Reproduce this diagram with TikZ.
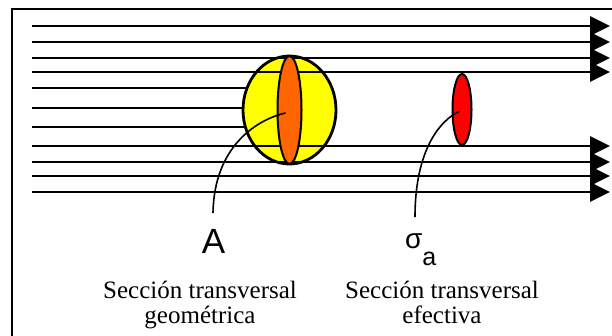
\documentclass[tikz,border=0pt]{standalone}
\usepackage{xcolor}
\usepackage{fontspec}
\setmainfont{Liberation Serif}
\newfontfamily\etiqfont{Liberation Sans}
\usepackage{tikz}
\usetikzlibrary{
  positioning,
  arrows.meta,
  shapes.geometric
}
\definecolor{amarillo}{RGB}{255,255,0}
\definecolor{naranja}{RGB}{255,102,0}
\definecolor{rojo}{RGB}{255,0,0}
\tikzset{
  marco/.style={line width=2pt},
  rayo/.style={line width=2.8pt},
  rayoflecha/.style={rayo,-{Triangle[length=20pt,width=19pt]}},
  esfera/.style={ellipse,draw,line width=2.8pt,fill=amarillo,inner sep=0pt,minimum width=93pt,minimum height=108pt},
  seccion/.style={ellipse,draw,line width=2pt,inner sep=0pt},
  guia/.style={line width=1.6pt},
  etiq/.style={inner sep=0pt,font=\etiqfont},
  texto/.style={align=center,inner sep=0pt,font=\fontsize{25}{24.5}\selectfont}
}

\begin{document}
\begin{tikzpicture}[x=1pt, y=-1pt]
    \useasboundingbox (0,0) rectangle (612,335);
    \draw[marco] (12,345) -- (12,9) -- (620,9);
    \coordinate (centro) at (289.5,110);
    \foreach \y in {88,108,127}
      \draw[rayo] (32,\y) -- (centro |- 0,\y);
    \node[esfera] (esf) at (centro) {};
    \foreach \y in {26,42,58,72,146,162,176,192}
      \draw[rayoflecha] (32,\y) -- (610,\y);
    \node[seccion,fill=naranja,minimum width=24pt,minimum height=108pt] (seccgeo) at (centro) {};
    \node[seccion,fill=rojo,minimum width=19pt,minimum height=71pt] (seccef) at (462,109.5) {};

    \node[etiq,anchor=base,font=\etiqfont\fontsize{35}{35}\selectfont] (etiqA) at (213.5,253) {A};
    \node[etiq,anchor=base west,font=\etiqfont\fontsize{28}{28}\selectfont] (etiqsigma) at (405,248) {σ\raisebox{-17pt}{\fontsize{25}{25}\selectfont a}};
    \coordinate (finA) at (213,213);
    \coordinate (finsigma) at (415,217);
    \draw[guia] ([xshift=-4pt,yshift=-3pt]seccgeo.center) .. controls (255,120) and (214,148) .. (finA);
    \draw[guia] ([xshift=-2pt,yshift=-1.5pt]seccef.center) .. controls (440,120) and (415,150) .. (finsigma);

    \node[texto,anchor=base] (textogeo) at (200,323) {Sección transversal\\geométrica};
    \node[texto,anchor=base] (textoef) at (442,323) {Sección transversal\\efectiva};
\end{tikzpicture}
\end{document}
